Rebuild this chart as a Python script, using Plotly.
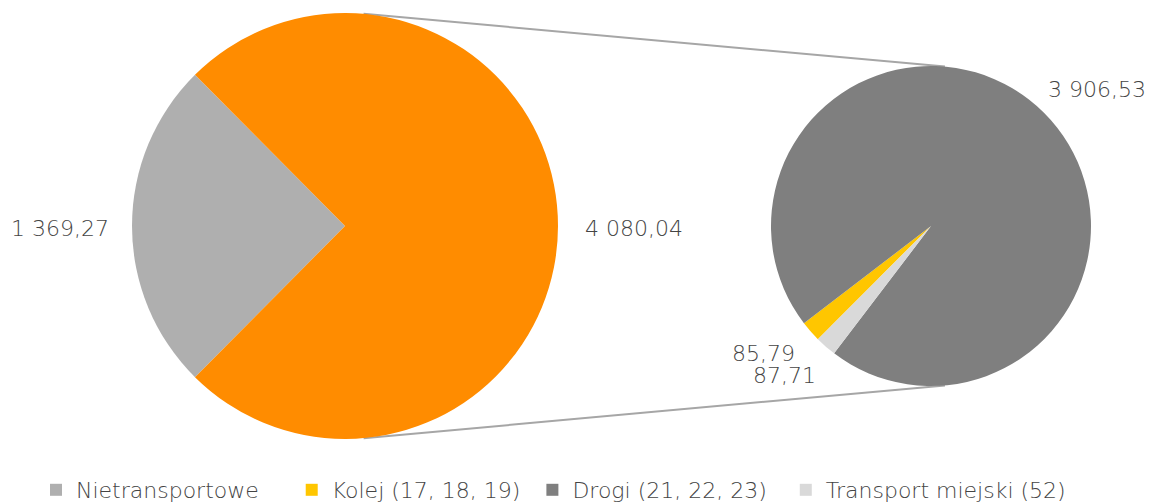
import math
import plotly.graph_objects as go

# Energy use split: non-transport vs. transport, then transport broken down by mode
main_labels = ["Nietransportowe", "Transport"]
main_values = [1369.27, 4080.04]

sub_labels = ["Kolej (17, 18, 19)", "Drogi (21, 22, 23)", "Transport miejski (52)"]
sub_values = [85.79, 3906.53, 87.71]

main_colors = ["#AFAFAF", "#FF8C00"]
sub_colors = ["#FFC600", "#7F7F7F", "#D9D9D9"]

W, H = 1154, 502
FONT = "DejaVu Sans"
TEXT = "#444444"


def pl(v):
    """Polish number format: space for thousands, comma for decimals."""
    s = f"{v:,.2f}"
    return s.replace(",", " ").replace(".", ",")


# pie geometry in pixels (centre x, centre y from top, radius)
c1 = (345, 226, 213)
c2 = (931, 226, 160)


def domain(c):
    cx, cy, r = c
    return dict(x=[(cx - r) / W, (cx + r) / W],
                y=[1 - (cy + r) / H, 1 - (cy - r) / H])


# left pie: non-transport slice centred on the left side (rotation is
# measured clockwise from 12 o'clock, and the first slice runs clockwise from it)
frac = main_values[0] / sum(main_values)
rot1 = -90 - frac * 180

fig = go.Figure()
fig.add_trace(go.Pie(
    labels=main_labels, values=main_values, sort=False,
    direction="counterclockwise", rotation=rot1,
    marker=dict(colors=main_colors, line=dict(width=0)),
    textinfo="none", hoverinfo="label+value",
    domain=domain(c1), showlegend=False,
))

# second pie carries the legend; the zero-valued first entry only adds the
# "Nietransportowe" legend item without drawing a slice.
# Trailing no-break spaces widen the gap after each legend entry.
pad = [4, 1, 2, 0]
leg_labels = [lab + "\u00a0" * p for lab, p in zip([main_labels[0]] + sub_labels, pad)]
leg_values = [0] + sub_values
leg_colors = [main_colors[0]] + sub_colors
fig.add_trace(go.Pie(
    labels=leg_labels, values=leg_values, sort=False,
    direction="clockwise", rotation=-135,
    marker=dict(colors=leg_colors, line=dict(width=0)),
    textinfo="none", hoverinfo="label+value",
    domain=domain(c2), showlegend=True,
))

# connector lines between the pies
ang = math.radians(85)
for sgn in (1, -1):
    x0 = c1[0] + c1[2] * math.cos(ang)
    y0 = c1[1] - sgn * c1[2] * math.sin(ang)
    x1 = c2[0] + c2[2] * math.cos(ang)
    y1 = c2[1] - sgn * c2[2] * math.sin(ang)
    fig.add_shape(type="line", xref="paper", yref="paper",
                  x0=x0 / W, y0=1 - y0 / H, x1=x1 / W, y1=1 - y1 / H,
                  line=dict(color="#A6A6A6", width=2), layer="below")

# value labels
label_pos = [
    (main_values[0], 60, 228),
    (main_values[1], 634, 228),
    (sub_values[1], 1097, 89),
    (sub_values[0], 763, 353),
    (sub_values[2], 784, 375),
]
for v, x, y in label_pos:
    fig.add_annotation(text=pl(v), x=x / W, y=1 - y / H, xref="paper", yref="paper",
                       showarrow=False, xanchor="center", yanchor="middle",
                       font=dict(family=FONT, size=22, color=TEXT, weight=200))

fig.update_layout(
    width=W, height=H,
    margin=dict(l=0, r=0, t=0, b=0, autoexpand=False),
    paper_bgcolor="white", plot_bgcolor="white",
    separators=", ",
    legend=dict(orientation="h", x=36 / W, xanchor="left",
                y=1 - 490 / H, yanchor="middle",
                font=dict(family=FONT, size=22, color=TEXT, weight=200),
                itemclick=False, itemdoubleclick=False),
    font=dict(family=FONT, color=TEXT),
)

fig.write_html("out.html")
